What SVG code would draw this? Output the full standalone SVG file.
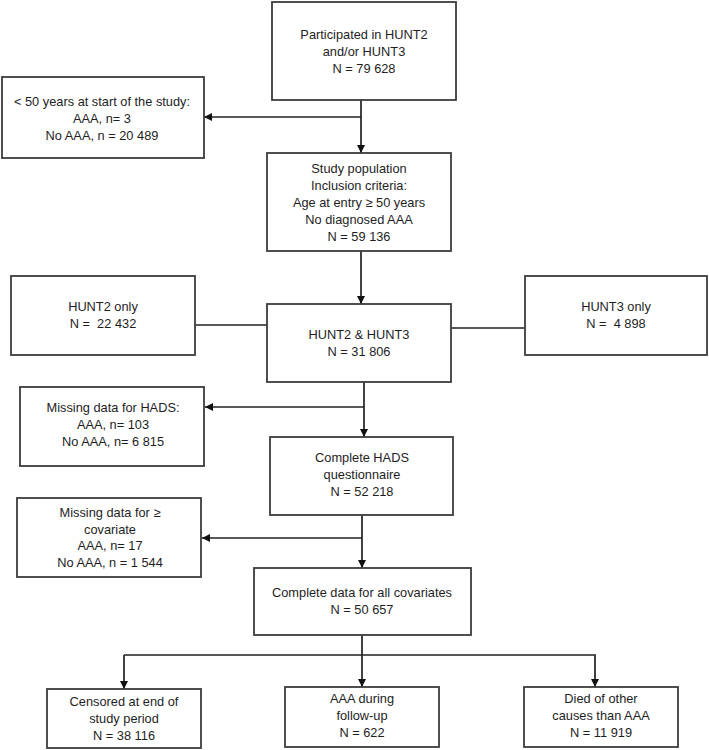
<svg xmlns="http://www.w3.org/2000/svg" width="709" height="750" viewBox="0 0 709 750">
<style>
.box{fill:#fff;stroke:#3c3c3c;stroke-width:1.8}
.t{font-family:"Liberation Sans",Arial,sans-serif;font-size:12.8px;fill:#1e1e1e;text-anchor:middle}
.c{fill:none;stroke:#222;stroke-width:1.7}
</style>
<defs>
<marker id="ah" viewBox="0 0 10 10" refX="10" refY="5" markerWidth="8" markerHeight="8" markerUnits="userSpaceOnUse" orient="auto">
<path d="M0,0 L10,5 L0,10 z" fill="#111"/>
</marker>
</defs>
<rect width="709" height="750" fill="#fff"/>
<g id="connectors">
<line class="c" x1="361" y1="100" x2="361" y2="153" marker-end="url(#ah)"/>
<line class="c" x1="361" y1="117" x2="204" y2="117" marker-end="url(#ah)"/>
<line class="c" x1="361" y1="251" x2="361" y2="304" marker-end="url(#ah)"/>
<line class="c" x1="195" y1="325" x2="267" y2="325"/>
<line class="c" x1="451" y1="328" x2="525" y2="328"/>
<line class="c" x1="364" y1="382" x2="364" y2="437" marker-end="url(#ah)"/>
<line class="c" x1="364" y1="407" x2="205" y2="407" marker-end="url(#ah)"/>
<line class="c" x1="362" y1="515" x2="362" y2="568" marker-end="url(#ah)"/>
<line class="c" x1="362" y1="538" x2="202" y2="538" marker-end="url(#ah)"/>
<line class="c" x1="362" y1="635" x2="362" y2="687" marker-end="url(#ah)"/>
<polyline class="c" points="124,655 595,655 595,687" marker-end="url(#ah)"/>
<line class="c" x1="124" y1="655" x2="124" y2="689" marker-end="url(#ah)"/>
</g>
<g id="participated">
<rect class="box" x="272" y="2" width="184" height="98"/>
<text class="t" x="364" y="39">Participated in HUNT2</text>
<text class="t" x="364" y="56">and/or HUNT3</text>
<text class="t" x="364" y="73">N = 79 628</text>
</g>
<g id="under50">
<rect class="box" x="2" y="77" width="202" height="81"/>
<text class="t" x="102" y="106">&lt; 50 years at start of the study:</text>
<text class="t" x="102" y="123">AAA, n= 3</text>
<text class="t" x="102" y="140">No AAA, n = 20 489</text>
</g>
<g id="studypop">
<rect class="box" x="267" y="153" width="184" height="98"/>
<text class="t" x="359" y="173">Study population</text>
<text class="t" x="359" y="190">Inclusion criteria:</text>
<text class="t" x="359" y="207">Age at entry ≥ 50 years</text>
<text class="t" x="359" y="224">No diagnosed AAA</text>
<text class="t" x="359" y="241">N = 59 136</text>
</g>
<g id="hunt2only">
<rect class="box" x="11" y="276" width="184" height="79"/>
<text class="t" x="103" y="311">HUNT2 only</text>
<text class="t" x="103" y="328">N =&#160; 22 432</text>
</g>
<g id="hunt23">
<rect class="box" x="267" y="304" width="184" height="78"/>
<text class="t" x="359" y="339">HUNT2 &amp; HUNT3</text>
<text class="t" x="359" y="356">N = 31 806</text>
</g>
<g id="hunt3only">
<rect class="box" x="525" y="276" width="182" height="79"/>
<text class="t" x="616" y="311">HUNT3 only</text>
<text class="t" x="616" y="328">N =&#160; 4 898</text>
</g>
<g id="missinghads">
<rect class="box" x="20" y="387" width="184" height="79"/>
<text class="t" x="113" y="412">Missing data for HADS:</text>
<text class="t" x="113" y="429">AAA, n= 103</text>
<text class="t" x="113" y="446">No AAA, n= 6 815</text>
</g>
<g id="completehads">
<rect class="box" x="270" y="437" width="183" height="78"/>
<text class="t" x="362" y="462">Complete HADS</text>
<text class="t" x="362" y="479">questionnaire</text>
<text class="t" x="362" y="496">N = 52 218</text>
</g>
<g id="missingcov">
<rect class="box" x="17" y="498" width="184" height="79"/>
<text class="t" x="110" y="517">Missing data for  ≥</text>
<text class="t" x="110" y="534">covariate</text>
<text class="t" x="110" y="550">AAA, n= 17</text>
<text class="t" x="110" y="567">No AAA, n = 1 544</text>
</g>
<g id="completecov">
<rect class="box" x="254" y="568" width="217" height="67"/>
<text class="t" x="362" y="597">Complete data for all covariates</text>
<text class="t" x="362" y="614">N = 50 657</text>
</g>
<g id="censored">
<rect class="box" x="47" y="689" width="154" height="59"/>
<text class="t" x="124" y="706">Censored at end of</text>
<text class="t" x="124" y="723">study period</text>
<text class="t" x="124" y="740">N = 38 116</text>
</g>
<g id="aaafollow">
<rect class="box" x="285" y="687" width="154" height="60"/>
<text class="t" x="362" y="703">AAA during</text>
<text class="t" x="362" y="720">follow-up</text>
<text class="t" x="362" y="737">N = 622</text>
</g>
<g id="died">
<rect class="box" x="524" y="687" width="154" height="60"/>
<text class="t" x="601" y="703">Died of other</text>
<text class="t" x="601" y="720">causes than AAA</text>
<text class="t" x="601" y="737">N = 11 919</text>
</g>
</svg>
